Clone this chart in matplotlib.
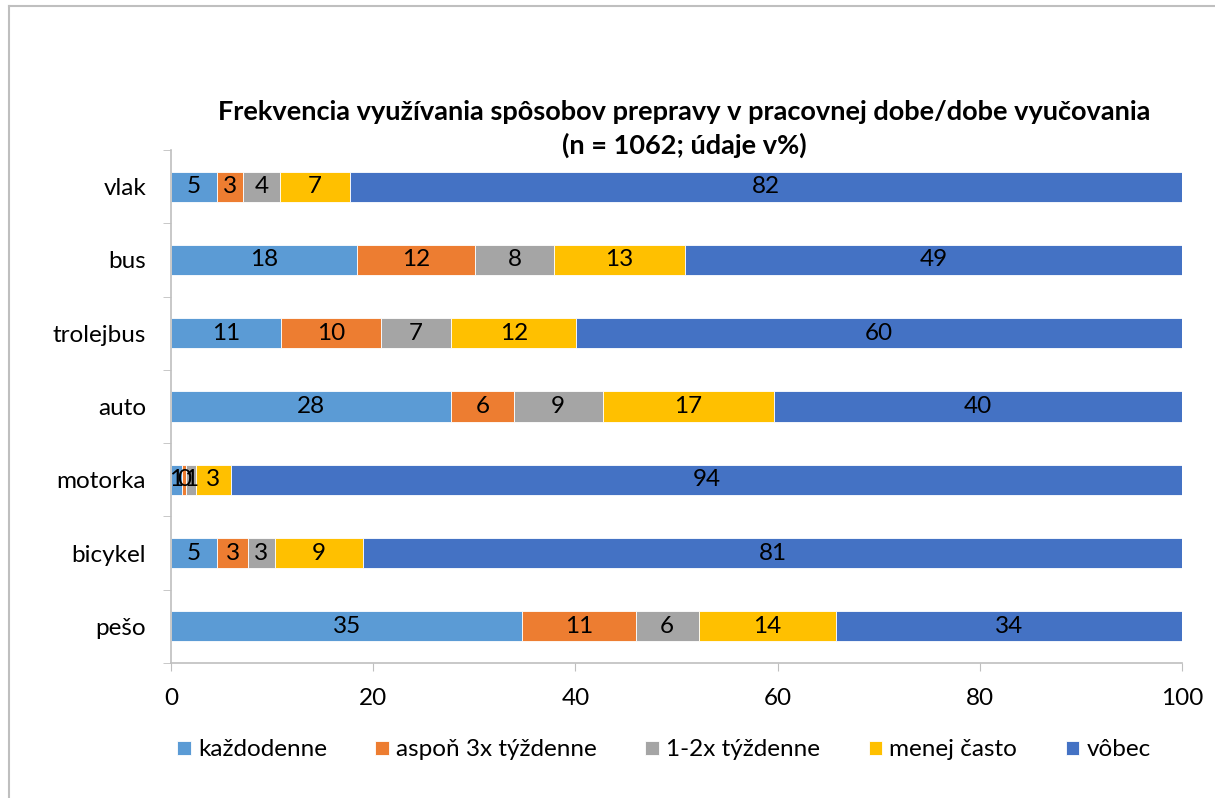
import numpy as np
import matplotlib
matplotlib.use('Agg')
import matplotlib.pyplot as plt
from matplotlib.lines import Line2D

plt.rcParams['font.family'] = ['Lato', 'DejaVu Sans']

categories = ['vlak', 'bus', 'trolejbus', 'auto', 'motorka', 'bicykel', 'pešo']
series = ['každodenne', 'aspoň 3x týždenne', '1-2x týždenne', 'menej často', 'vôbec']
colors = ['#5B9BD5', '#ED7D31', '#A5A5A5', '#FFC000', '#4472C4']

kazdodenne = [4.55, 18.4, 10.9, 27.7, 1.05, 4.55, 34.75]
aspon3x = [2.6, 11.7, 9.9, 6.2, 0.45, 3.1, 11.2]
tyzdenne12 = [3.65, 7.75, 6.9, 8.8, 1.0, 2.6, 6.25]
menej = [6.9, 13.0, 12.4, 16.9, 3.4, 8.75, 13.6]
vobec = [82.3, 49.2, 59.9, 40.4, 94.1, 81.1, 34.2]
values = [kazdodenne, aspon3x, tyzdenne12, menej, vobec]

title = 'Frekvencia využívania spôsobov prepravy v pracovnej dobe/dobe vyučovania\n(n = 1062; údaje v%)'

fig = plt.figure(figsize=(12.15, 7.98), dpi=100)
W, H = 1215, 798
ax = fig.add_axes([171 / W, 1 - 663 / H, (1182 - 171) / W, (663 - 150) / H])

y = np.arange(len(categories))
left = np.zeros(len(categories))
for name, vals, col in zip(series, values, colors):
    vals = np.array(vals)
    bars = ax.barh(y, vals, left=left, height=0.41, color=col, label=name,
                   edgecolor='white', linewidth=0.6)
    ax.bar_label(bars, labels=['%d' % int(v + 0.5) for v in vals], label_type='center',
                 fontsize=17.5, color='black')
    left += vals

ax.set_xlim(0, 100)
ax.set_ylim(len(categories) - 0.5, -0.5)
ax.set_xticks(np.arange(0, 101, 20))
ax.set_yticks(y)
ax.set_yticklabels(categories)
ax.set_yticks(np.arange(-0.5, len(categories), 1), minor=True)
ax.tick_params(axis='y', which='major', length=0, pad=18, labelsize=17.5)
ax.tick_params(axis='y', which='minor', length=6, color='#BFBFBF', direction='out')
ax.tick_params(axis='x', length=6, color='#BFBFBF', direction='out', labelsize=17.5, pad=12)
for s in ['top', 'right']:
    ax.spines[s].set_visible(False)
ax.spines['left'].set_color('#BFBFBF')
ax.spines['bottom'].set_color('#BFBFBF')
ax.spines['left'].set_linewidth(1.2)
ax.spines['bottom'].set_linewidth(1.2)

fig.text(684 / W, 1 - 129 / H, title, ha='center', va='center', fontsize=19.5,
         fontweight='bold', linespacing=1.45)

handles, labels = ax.get_legend_handles_labels()
fig.legend(handles, labels, loc='center', bbox_to_anchor=(664 / W, 1 - 750 / H), ncol=5,
           frameon=False, fontsize=17.5, handlelength=0.55, handleheight=0.55,
           handletextpad=0.3, columnspacing=2.0)

# chart border (top and left visible)
fig.add_artist(Line2D([8.5 / W, 8.5 / W], [0, 1 - 6 / H], color='#BFBFBF', lw=1.5))
fig.add_artist(Line2D([8.5 / W, 1], [1 - 6 / H, 1 - 6 / H], color='#BFBFBF', lw=1.5))

fig.savefig('out.png', dpi=100)
